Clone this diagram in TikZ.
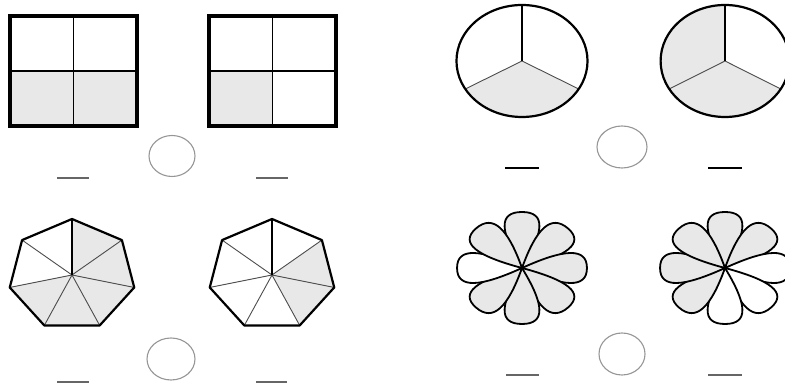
\documentclass[tikz,border=0pt]{standalone}
\usepackage{tikz}
\usetikzlibrary{shapes.geometric}
\definecolor{shadegray}{RGB}{232,232,232}
\definecolor{ringgray}{RGB}{150,150,150}

\tikzset{
    petal/.pic={\path[pic actions] (0,0) .. controls (-19,36) and (-21,56) .. (0,56) .. controls (21,56) and (19,36) .. (0,0) -- cycle;}
}

\begin{document}
\begin{tikzpicture}[x=1pt, y=1pt,
        outline/.style={draw=black, line width=2.2pt, line join=round},
        spoke/.style={draw=black!70, line width=0.9pt},
        blank/.style={draw=black!60, line width=2pt},
        answer/.style={ellipse, draw=ringgray, line width=1.1pt, minimum width=46pt, minimum height=41pt, inner sep=0pt}]
    \useasboundingbox (0,0) rectangle (785,387);

    % squares
    \fill[shadegray] (10,261) rectangle (137,316);
    \draw[line width=1.6pt] (73.5,261) -- (73.5,371) (10,316) -- (137,316);
    \draw[line width=4pt] (10,261) rectangle (137,371);

    \fill[shadegray] (209,261) rectangle (272.5,316);
    \draw[line width=1.6pt] (272.5,261) -- (272.5,371) (209,316) -- (336,316);
    \draw[line width=4pt] (209,261) rectangle (336,371);

    \node[answer] (ans1) at (172,231) {};
    \draw[blank] (57,209) -- (89,209);
    \draw[blank] (256,209) -- (288,209);

    % pies
    \begin{scope}[shift={(522,326)}, xscale=1.17]
        \fill[shadegray] (0,0) -- (210:56) arc[start angle=210, end angle=330, radius=56] -- cycle;
        \draw[spoke] (0,0) -- (210:56) (0,0) -- (330:56);
        \draw[line width=1.3pt] (0,0) -- (90:56);
        \draw[outline] (0,0) circle[radius=56];
    \end{scope}
    \begin{scope}[shift={(725,326)}, xscale=1.15]
        \fill[shadegray] (0,0) -- (90:56) arc[start angle=90, end angle=330, radius=56] -- cycle;
        \draw[spoke] (0,0) -- (210:56) (0,0) -- (330:56);
        \draw[line width=1.3pt] (0,0) -- (90:56);
        \draw[outline] (0,0) circle[radius=56];
    \end{scope}

    \node[answer, minimum width=50pt, minimum height=42pt] (ans2) at (622,240) {};
    \draw[blank, draw=black] (505,219) -- (539,219);
    \draw[blank, draw=black] (708,219) -- (742,219);

    % heptagons
    \begin{scope}[shift={(72,112)}, xscale=1.14]
        \foreach \k [evaluate=\k as \a using 90+\k*360/7, evaluate=\k as \b using 90+(\k+1)*360/7] in {2,...,6}
            \fill[shadegray] (0,0) -- (\a:56) -- (\b:56) -- cycle;
        \foreach \k [evaluate=\k as \a using 90+\k*360/7] in {1,...,6}
            \draw[spoke] (0,0) -- (\a:56);
        \draw[line width=1.3pt] (0,0) -- (90:56);
        \draw[outline] (90:56) -- (141.43:56) -- (192.86:56) -- (244.29:56) -- (295.71:56) -- (347.14:56) -- (38.57:56) -- cycle;
    \end{scope}
    \begin{scope}[shift={(272,112)}, xscale=1.14]
        \foreach \k [evaluate=\k as \a using 90+\k*360/7, evaluate=\k as \b using 90+(\k+1)*360/7] in {4,5}
            \fill[shadegray] (0,0) -- (\a:56) -- (\b:56) -- cycle;
        \foreach \k [evaluate=\k as \a using 90+\k*360/7] in {1,...,6}
            \draw[spoke] (0,0) -- (\a:56);
        \draw[line width=1.3pt] (0,0) -- (90:56);
        \draw[outline] (90:56) -- (141.43:56) -- (192.86:56) -- (244.29:56) -- (295.71:56) -- (347.14:56) -- (38.57:56) -- cycle;
    \end{scope}

    \node[answer, minimum width=48pt, minimum height=42pt] (ans3) at (171,28) {};
    \draw[blank] (57,5) -- (89,5);
    \draw[blank] (256,5) -- (287,5);

    % flowers
    \foreach \d/\f in {90/shadegray, 45/shadegray, 0/shadegray, -45/shadegray, -90/shadegray, -135/shadegray, 180/white, 135/shadegray}
        \pic[xscale=1.16, rotate=\d-90, fill=\f, draw=black, line width=1.8pt] at (522,119) {petal};
    \foreach \d/\f in {90/shadegray, 45/shadegray, 0/white, -45/white, -90/white, -135/shadegray, 180/shadegray, 135/shadegray}
        \pic[xscale=1.16, rotate=\d-90, fill=\f, draw=black, line width=1.8pt] at (725,119) {petal};

    \node[answer, minimum width=46pt, minimum height=42pt] (ans4) at (622,33) {};
    \draw[blank] (506,12) -- (539,12);
    \draw[blank] (708,12) -- (742,12);
\end{tikzpicture}
\end{document}
